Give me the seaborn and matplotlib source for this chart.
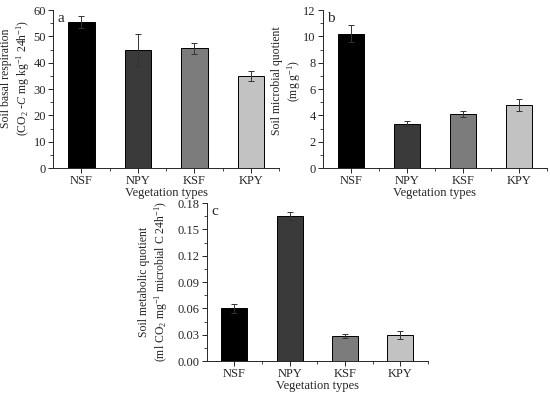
import numpy as np
import pandas as pd
import matplotlib
matplotlib.use('Agg')
import matplotlib.pyplot as plt
from matplotlib.ticker import MultipleLocator, FormatStrFormatter
import seaborn as sns

# Vegetation types and bar colours
types = ['NSF', 'NPY', 'KSF', 'KPY']
colors = ['#000000', '#3a3a3a', '#7c7c7c', '#c2c2c2']

# Panel a: soil basal respiration
resp = [55.3, 44.9, 45.4, 34.9]
resp_err = [2.3, 6.0, 2.0, 1.9]

# Panel b: soil microbial quotient
micro = [10.2, 3.38, 4.09, 4.77]
micro_err = [0.65, 0.2, 0.25, 0.47]

# Panel c: soil metabolic quotient
meta = [0.0599, 0.1648, 0.0284, 0.0296]
meta_err = [0.005, 0.0045, 0.002, 0.0045]

sns.set_style('ticks')
plt.rcParams['font.family'] = ['Liberation Serif', 'DejaVu Serif']
plt.rcParams['mathtext.fontset'] = 'custom'
plt.rcParams['mathtext.rm'] = 'Liberation Serif'
plt.rcParams['mathtext.it'] = 'Liberation Serif:italic'
plt.rcParams['font.size'] = 8.5
plt.rcParams['xtick.direction'] = 'out'
plt.rcParams['ytick.direction'] = 'out'

fig = plt.figure(figsize=(5.5, 3.93), dpi=100)
ax_a = fig.add_axes([0.0964, 0.5725, 0.411, 0.402])
ax_b = fig.add_axes([0.587, 0.5725, 0.407, 0.402])
ax_c = fig.add_axes([0.376, 0.0814, 0.402, 0.402])


def draw_panel(ax, vals, errs, ylim, major, minor, ylabel, letter, label_x, label_y, fmt=None):
    df = pd.DataFrame({'type': types, 'value': vals})
    sns.barplot(data=df, x='type', y='value', hue='type', palette=colors,
                width=0.47, edgecolor='black', linewidth=0.7, legend=False, ax=ax)
    ax.errorbar(np.arange(len(types)), vals, yerr=errs, fmt='none',
                ecolor='#333333', elinewidth=0.7, capsize=2, capthick=0.7)
    ax.set_xlim(-0.5, 3.5)
    ax.set_ylim(*ylim)
    ax.yaxis.set_major_locator(MultipleLocator(major))
    ax.yaxis.set_minor_locator(MultipleLocator(minor))
    ax.set_xticks([0.5, 1.5, 2.5, 3.5], minor=True)
    if fmt:
        ax.yaxis.set_major_formatter(fmt)
    ax.tick_params(axis='both', which='major', length=3.5, width=0.7, labelsize=9, pad=1.5)
    ax.tick_params(axis='both', which='minor', length=2, width=0.6)
    ax.set_xlabel('Vegetation types', fontsize=9, labelpad=0)
    ax.set_ylabel(ylabel, fontsize=8.5, linespacing=1.25)
    ax.yaxis.set_label_coords(label_x, label_y)
    ax.text(0.02, 0.985, letter, transform=ax.transAxes, fontsize=11,
            va='top', ha='left')
    for s in ['left', 'bottom']:
        ax.spines[s].set_linewidth(0.7)
    sns.despine(ax=ax)


draw_panel(ax_a, resp, resp_err, (0, 60), 10, 5,
           'Soil basal respiration\n(CO$_2$ -$C$ mg kg$^{-1}$ 24h$^{-1}$)', 'a',
           -0.092, 0.57)
draw_panel(ax_b, micro, micro_err, (0, 12), 2, 1,
           'Soil microbial quotient\n(mg g$^{-1}$)', 'b',
           -0.088, 0.55)
draw_panel(ax_c, meta, meta_err, (0, 0.18), 0.03, 0.015,
           'Soil metabolic quotient\n(ml CO$_2$ mg$^{-1}$ microbial C 24h$^{-1}$)', 'c',
           -0.165, 0.5, fmt=FormatStrFormatter('%.2f'))

fig.savefig('out.png', dpi=100)
